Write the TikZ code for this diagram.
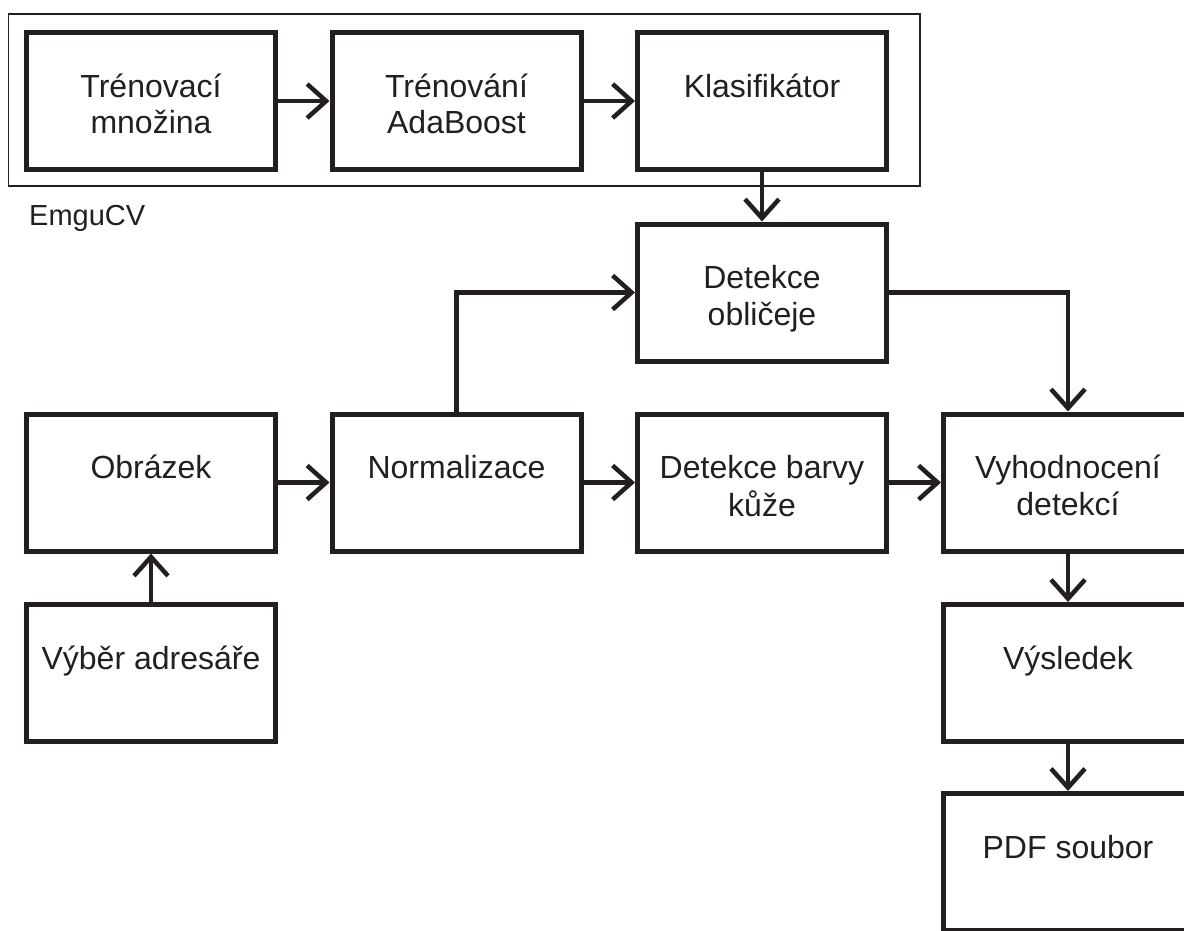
\documentclass[tikz,border=0pt]{standalone}
\usepackage{fontspec}
\setmainfont{Liberation Sans}
\usetikzlibrary{arrows.meta}
\definecolor{ink}{HTML}{231F20}
\begin{document}
\begin{tikzpicture}[x=1pt,y=-1pt,
  box/.style={draw=ink, line width=5pt, minimum width=249pt, minimum height=137pt, inner sep=0pt},
  txt/.style={anchor=north, inner sep=0pt, align=center, text=ink, font=\fontsize{32}{36.5}\selectfont},
  arr/.style={draw=ink, line width=4.5pt, -{Straight Barb[length=19pt,width=34pt]}}
]
\useasboundingbox (0,0) rectangle (1184,930);
\clip (0,0) rectangle (1184,930);
% outer frame
\draw[ink, line width=1.5pt] (8.5,14) rectangle (920,186);
\node[anchor=base west, inner sep=0pt, text=ink, font=\fontsize{29}{33}\selectfont] (emgu) at (29,225) {EmguCV};
% boxes
\node[box] (b1) at (151,101) {};
\node[box] (b2) at (456.5,101) {};
\node[box] (b3) at (762,101) {};
\node[box] (dob) at (762,292.5) {};
\node[box] (obr) at (151,482.5) {};
\node[box] (norm) at (456.5,482.5) {};
\node[box] (dbar) at (762,482.5) {};
\node[box] (vyh) at (1068,482.5) {};
\node[box] (vyb) at (151,673) {};
\node[box] (vys) at (1068,673) {};
\node[box] (pdf) at (1068,862) {};
% texts
\node[txt] (t1) at ([yshift=-41.5pt]b1.north) {\strut Trénovací\\množina};
\node[txt] (t2) at ([yshift=-41.5pt]b2.north) {\strut Trénování\\AdaBoost};
\node[txt] (t3) at ([yshift=-41.5pt]b3.north) {\strut Klasifikátor};
\node[txt] (t4) at ([yshift=-41.5pt]dob.north) {\strut Detekce\\obličeje};
\node[txt] (t5) at ([yshift=-41.5pt]obr.north) {\strut Obrázek};
\node[txt] (t6) at ([yshift=-41.5pt]norm.north) {\strut Normalizace};
\node[txt] (t7) at ([yshift=-41.5pt]dbar.north) {\strut Detekce barvy\\kůže};
\node[txt] (t8) at ([yshift=-41.5pt]vyh.north) {\strut Vyhodnocení\\detekcí};
\node[txt] (t9) at ([yshift=-41.5pt]vyb.north) {\strut Výběr adresáře};
\node[txt] (t10) at ([yshift=-41.5pt]vys.north) {\strut Výsledek};
\node[txt] (t11) at ([yshift=-41.5pt]pdf.north) {\strut PDF soubor};
% connectors
\draw[arr] (b1) -- (b2);
\draw[arr] (b2) -- (b3);
\draw[arr] (b3) -- (dob);
\draw[arr] (vyb) -- (obr);
\draw[arr] (obr) -- (norm);
\draw[arr] (norm.north) |- (dob.west);
\draw[arr] (norm) -- (dbar);
\draw[arr] (dbar) -- (vyh);
\draw[arr] (dob.east) -| (vyh.north);
\draw[arr] (vyh) -- (vys);
\draw[arr] (vys) -- (pdf);
\end{tikzpicture}
\end{document}
